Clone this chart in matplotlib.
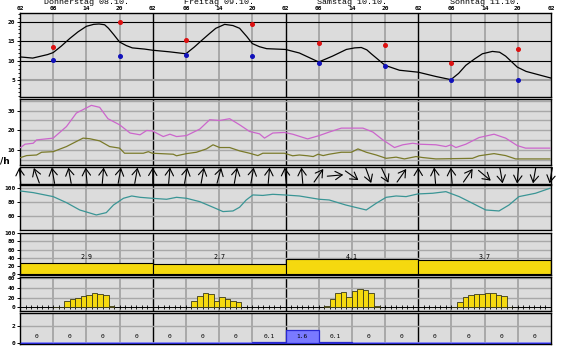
import numpy as np
import matplotlib
matplotlib.use("Agg")
import matplotlib.pyplot as plt
import matplotlib.transforms as mtransforms

W, H = 563, 351
fig = plt.figure(figsize=(W / 100, H / 100), dpi=100)
fig.patch.set_facecolor("white")

MONO = "DejaVu Sans Mono"

# ---------------- data ----------------
day_labels = ["Donnerstag 08.10.", "Freitag 09.10.", "Samstag 10.10.", "Sonntag 11.10."]
hour_labels = ["02", "08", "14", "20"]
unit_label = "/h"

temp_t = [0, 2.3, 5, 6, 7.5, 9, 10.5, 12, 13.3, 14.3, 15.3, 16, 17, 18, 19.2, 20.3, 22.5, 24,
          27, 30, 31.5, 33, 34.3, 35.4, 37, 38.5, 39.7, 41, 42, 43.3, 44.6, 48,
          50.5, 54, 56.5, 59, 60.5, 61.7, 62.7, 63.5, 66, 68.6, 72,
          75.2, 77.9, 79.3, 80.6, 82.2, 83.6, 85.4, 86.7, 87.8, 89.9, 91.5, 96]
temp_v = [11.0, 10.7, 11.6, 12.1, 13.8, 15.7, 17.4, 18.8, 19.3, 19.4, 19.2, 18.3, 16.6, 14.8, 13.9, 13.3, 13.0, 12.7,
          12.3, 11.8, 13.5, 15.4, 17.0, 18.3, 19.3, 19.0, 18.3, 16.2, 14.4, 13.6, 13.1, 12.9,
          12.0, 9.7, 11.2, 12.9, 13.3, 13.4, 12.8, 11.8, 8.85, 7.6, 7.1,
          6.0, 5.2, 6.8, 8.85, 10.5, 11.8, 12.4, 12.2, 11.2, 8.4, 7.3, 5.6]

tmax_t = [6, 18, 30, 42, 54, 66, 78, 90]
tmax_v = [13.4, 20.0, 15.3, 19.5, 14.6, 14.0, 9.5, 12.9]
tmin_t = [6, 18, 30, 42, 54, 66, 78, 90]
tmin_v = [10.1, 11.2, 11.6, 11.2, 9.5, 8.8, 5.0, 5.0]

gust_t = [0.1, 0.9, 2.4, 3.0, 6.0, 8.4, 10.2, 12.0, 12.9, 14.4, 15.9, 18.0, 19.9, 21.7, 22.9, 23.9,
          25.9, 27.1, 28.3, 30.1, 32.5, 34.3, 36.1, 37.9, 39.7, 41.5, 43.3, 44.2, 45.7, 47.8,
          49.3, 52.0, 54.1, 55.9, 58.1, 62.0, 63.8, 65.6, 67.7, 69.2, 71.0, 72.2,
          75.2, 77.0, 77.9, 78.8, 80.6, 83.0, 85.7, 87.8, 89.9, 91.4, 95.8]
gust_v = [11.2, 12.9, 13.4, 15.1, 16.0, 21.9, 28.8, 31.4, 32.7, 31.7, 25.9, 22.8, 18.6, 17.7, 19.9, 19.7,
          16.8, 18.0, 16.8, 17.3, 20.6, 25.4, 25.0, 25.9, 22.8, 19.4, 18.2, 16.0, 18.6, 18.9,
          18.0, 15.6, 17.3, 19.1, 21.1, 21.1, 19.1, 15.1, 11.2, 12.6, 13.4, 12.9,
          12.6, 11.7, 12.6, 11.2, 12.9, 16.3, 18.0, 16.0, 12.2, 10.9, 10.9]

mean_t = [0.1, 1.2, 3.0, 3.9, 6.0, 8.4, 10.2, 11.4, 12.6, 14.4, 16.2, 18.0, 18.9, 22.3, 23.2, 23.9,
          27.7, 28.3, 30.1, 31.9, 33.7, 34.9, 36.1, 37.9, 39.7, 41.5, 43.0, 43.9, 47.8,
          49.3, 50.5, 52.0, 53.0, 53.9, 54.8, 55.9, 58.1, 59.9, 61.1, 62.6, 64.4, 66.2, 68.0, 69.5,
          71.6, 72.8, 75.2, 81.8, 83.0, 85.7, 87.8, 89.6, 95.8]
mean_v = [6.1, 7.1, 7.4, 8.8, 9.1, 11.7, 14.3, 16.0, 15.7, 14.6, 11.7, 10.9, 8.3, 8.3, 9.1, 8.3,
          7.8, 7.0, 8.1, 8.8, 10.5, 12.6, 11.2, 11.2, 9.5, 8.3, 7.1, 8.3, 8.3,
          7.0, 7.4, 7.0, 6.6, 7.8, 7.1, 7.8, 8.8, 8.8, 10.5, 8.8, 7.4, 5.7, 6.3, 5.4,
          6.6, 6.1, 5.4, 5.7, 7.0, 8.1, 7.1, 5.4, 5.4]

arrow_t = list(range(0, 97, 3))
arrow_dir = [95, 110, 100, 100, 95, 85, 80, 80,
             90, 85, 80, 80, 75, 80, 80, 85,
             95, 95, 55, 5, -35, -70, -65, 55,
             90, 95, 95, 55, -40, -80, -95, -100, -100]

hum_t = [0.1, 2.4, 6.0, 8.4, 10.8, 13.8, 15.6, 16.9, 18.7, 20.2, 21.7, 23.9, 26.5, 28.3, 30.1, 32.5,
         34.9, 36.7, 38.5, 39.7, 40.9, 42.1, 43.9, 45.7, 47.8,
         50.5, 54.1, 55.9, 58.9, 62.6, 64.4, 66.2, 68.0, 69.8, 71.9, 74.6, 77.0, 79.4, 81.8,
         84.2, 86.6, 88.4, 90.2, 93.2, 95.8]
hum_v = [96.1, 93.8, 88.1, 79.5, 69.0, 61.9, 65.2, 76.1, 85.7, 89.0, 87.1, 85.7, 84.3, 87.1, 85.7, 80.9,
         72.9, 66.7, 67.6, 72.9, 83.3, 90.5, 89.8, 91.4, 90.5,
         89.0, 84.3, 83.3, 76.1, 69.0, 78.6, 87.1, 89.0, 88.1, 91.9, 92.9, 95.2, 88.1, 78.6,
         69.0, 67.6, 76.1, 88.1, 92.9, 100.0]

uv_day_start = [0, 24, 48, 72]
uv_bar = [26.4, 24.5, 37.3, 33.6]
uv_text = ["2.9", "2.7", "4.1", "3.7"]

sun_hour = [6, 7, 8, 9, 10, 11, 12, 13, 14, 15, 16,
            31, 32, 33, 34, 35, 36, 37, 38, 39,
            55, 56, 57, 58, 59, 60, 61, 62, 63, 64,
            78, 79, 80, 81, 82, 83, 84, 85, 86, 87, 88]
sun_val = [1, 1, 13, 17, 20, 23, 25, 29, 27, 25, 2,
           13, 23, 29, 27, 13, 21, 17, 13, 10,
           2, 18, 29, 31, 22, 34, 37, 36, 30, 2,
           1, 10, 22, 25, 27, 27, 29, 29, 26, 23, 1]

prec_start = list(range(0, 96, 6))
prec_val = [0, 0, 0, 0, 0, 0, 0, 0.1, 1.6, 0.1, 0, 0, 0, 0, 0, 0]
prec_text = ["0", "0", "0", "0", "0", "0", "0", "0.1", "1.6", "0.1", "0", "0", "0", "0", "0", "0"]

# ---------------- layout helpers ----------------
X0, X1 = 20, 551


def panel(y0, y1, ylim):
    ax = fig.add_axes([X0 / W, 1 - y1 / H, (X1 - X0) / W, (y1 - y0) / H])
    ax.set_facecolor("#dcdcdc")
    ax.set_xlim(0, 96)
    ax.set_ylim(*ylim)
    ax.set_xticks([])
    for s in ax.spines.values():
        s.set_color("black")
        s.set_linewidth(1.0)
    for d in range(4):
        for h in (6, 12, 18):
            ax.axvline(d * 24 + h, color="#a4a4a4", lw=1.3, zorder=1)
        if d > 0:
            ax.axvline(d * 24, color="black", lw=1.0, zorder=1)
    ax.tick_params(axis="y", length=2.5, width=0.7, pad=1, labelsize=4.5)
    return ax


def ylabels(ax, ticks, labels=None):
    ax.set_yticks(ticks)
    ax.set_yticklabels(labels if labels else [str(t) for t in ticks],
                       fontfamily=MONO, fontsize=4.5, fontweight="bold")


# ---------------- header ----------------
for i, lab in enumerate(day_labels):
    xc = X0 + (i + 0.5) * (X1 - X0) / 4
    fig.text(xc / W, 1 - 3.5 / H, lab, ha="center", va="baseline",
             fontfamily="Liberation Mono", fontsize=6)
for d in range(4):
    for j, hl in enumerate(hour_labels):
        x = X0 + (d * 24 + j * 6) * (X1 - X0) / 96
        fig.text(x / W, 1 - 8.5 / H, hl, ha="center", va="center",
                 fontfamily=MONO, fontsize=4.5, fontweight="bold")
fig.text(X1 / W, 1 - 8.5 / H, "02", ha="center", va="center",
         fontfamily=MONO, fontsize=4.5, fontweight="bold")

# ---------------- temperature ----------------
ax1 = panel(13, 96.5, (0.9, 22.2))
for v in (10, 15, 20):
    ax1.axhline(v, color="black", lw=0.8, zorder=1)
ax1.axhline(5, color="#a0a0a0", lw=1.5, zorder=1)
ylabels(ax1, [5, 10, 15, 20])
ax1.set_yticks(np.arange(1, 23, 1), minor=True)
ax1.tick_params(axis="y", which="minor", length=1.5, width=0.6)
ax1.plot(temp_t, temp_v, color="black", lw=0.9, zorder=3)
ax1.plot(tmax_t, tmax_v, "o", color="#dd1111", ms=2.6, zorder=4)
ax1.plot(tmin_t, tmin_v, "o", color="#1111bb", ms=2.6, zorder=4)

# ---------------- wind ----------------
ax2 = panel(98.5, 165, (2.3, 36.2))
for v in range(5, 36, 5):
    ax2.axhline(v, color="#a8a8a8", lw=1.0, zorder=1)
ylabels(ax2, [10, 20, 30])
ax2.plot(gust_t, gust_v, color="#cc66cc", lw=0.9, zorder=3)
ax2.plot(mean_t, mean_v, color="#7a7a2a", lw=0.9, zorder=3)
fig.text(0.5 / W, 1 - 161.5 / H, unit_label, ha="left", va="center",
         fontfamily="DejaVu Sans", fontweight="bold", fontsize=6.5)

# ---------------- wind direction arrows ----------------
ax3 = panel(167, 184, (0, 17))
ax3.set_yticks([])
L = 8.0
for t, a in zip(arrow_t, arrow_dir):
    dx = L * np.cos(np.radians(a))
    dy = L * np.sin(np.radians(a))
    head = mtransforms.offset_copy(ax3.transData, fig=fig, x=dx, y=dy, units="dots")
    tail = mtransforms.offset_copy(ax3.transData, fig=fig, x=-dx, y=-dy, units="dots")
    ax3.annotate("", xy=(t, 8.5), xycoords=head, xytext=(t, 8.5), textcoords=tail,
                 arrowprops=dict(arrowstyle="->,head_length=0.5,head_width=0.3", lw=0.8,
                                 color="black", shrinkA=0, shrinkB=0, mutation_scale=10),
                 annotation_clip=False, zorder=3)

# ---------------- humidity ----------------
ax4 = panel(185, 229.5, (41.1, 104.7))
for v in (60, 80, 100):
    ax4.axhline(v, color="#a8a8a8", lw=1.0, zorder=1)
ylabels(ax4, [60, 80, 100])
ax4.plot(hum_t, hum_v, color="#3a9595", lw=0.9, zorder=3)

# ---------------- UV ----------------
ax5 = panel(232.5, 274.5, (-0.7, 102))
for v in (20, 40, 60, 80, 100):
    ax5.axhline(v, color="#a8a8a8", lw=1.0, zorder=1)
ylabels(ax5, [0, 20, 40, 60, 80, 100])
ax5.bar(uv_day_start, uv_bar, width=24, align="edge", color="#f5d90f",
        edgecolor="black", lw=0.8, zorder=2)
for s, txt in zip(uv_day_start, uv_text):
    ax5.text(s + 12, 43, txt, ha="center", va="center", fontfamily=MONO,
             fontsize=4.8, zorder=4)

# ---------------- sunshine ----------------
ax6 = panel(277, 310.5, (-6.6, 62.5))
for v in (20, 40, 60):
    ax6.axhline(v, color="#a8a8a8", lw=1.0, zorder=1)
ylabels(ax6, [0, 20, 40, 60])
ax6.axhline(0, color="black", lw=0.7, zorder=2)
ax6.plot(np.arange(0, 97, 1), np.zeros(97), "|", color="black", ms=2.5, mew=0.6, zorder=2)
ax6.bar(sun_hour, sun_val, width=1, align="edge", color="#f5d90f",
        edgecolor="#3a3a1a", lw=0.6, zorder=3)

# ---------------- precipitation ----------------
ax7 = panel(312.5, 344, (-0.16, 3.68))
ax7.axhline(2, color="#a8a8a8", lw=1.0, zorder=1)
ylabels(ax7, [0, 2])
ax7.axhline(0, color="#8a8aff", lw=1.2, zorder=2)
ax7.bar(prec_start, prec_val, width=6, align="edge", color="#7a7aff",
        edgecolor="#2a2ad0", lw=0.9, zorder=3)
for s, txt in zip(prec_start, prec_text):
    ax7.text(s + 3, 0.72, txt, ha="center", va="center", fontfamily=MONO,
             fontsize=4.5, zorder=4)

fig.savefig("out.png", dpi=100)
